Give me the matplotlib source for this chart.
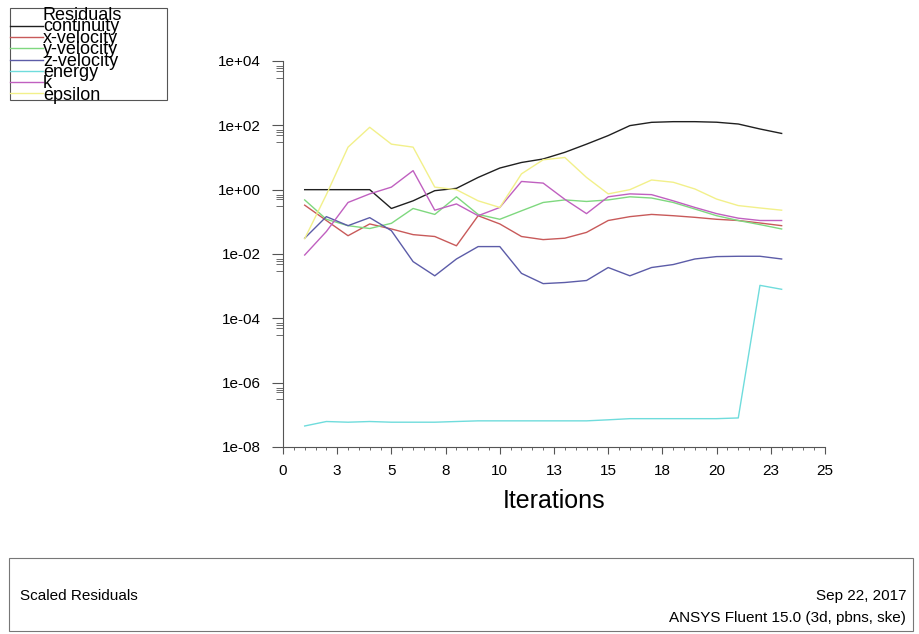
import matplotlib
matplotlib.use("Agg")
import matplotlib.pyplot as plt
from matplotlib.patches import Rectangle
from matplotlib.lines import Line2D
import numpy as np

plt.rcParams['font.family'] = ['Liberation Sans', 'DejaVu Sans']

# residual history
iterations = list(range(1, 24))
continuity = [1.0, 1.0, 1.0, 1.0, 0.26, 0.45, 0.93, 1.1, 2.4, 4.7, 7.0, 9.0,
              14.5, 26, 48, 98, 124, 130, 130, 125, 110, 77, 56]
x_velocity = [0.33, 0.11, 0.037, 0.086, 0.06, 0.04, 0.035, 0.018, 0.155, 0.086, 0.035, 0.028,
              0.031, 0.047, 0.11, 0.145, 0.17, 0.155, 0.138, 0.12, 0.11, 0.092, 0.076]
y_velocity = [0.48, 0.12, 0.076, 0.062, 0.09, 0.26, 0.17, 0.6, 0.17, 0.12, 0.22, 0.4,
              0.48, 0.43, 0.48, 0.6, 0.55, 0.4, 0.25, 0.155, 0.11, 0.082, 0.06]
z_velocity = [0.031, 0.145, 0.076, 0.135, 0.053, 0.0058, 0.0021, 0.007, 0.017, 0.017, 0.0025, 0.0012,
              0.0013, 0.0015, 0.0038, 0.0021, 0.0038, 0.0047, 0.007, 0.0083, 0.0085, 0.0085, 0.007]
energy = [4.5e-8, 6.2e-8, 5.9e-8, 6.2e-8, 5.9e-8, 5.9e-8, 5.9e-8, 6.2e-8, 6.5e-8, 6.5e-8, 6.5e-8, 6.5e-8,
          6.5e-8, 6.5e-8, 7.0e-8, 7.6e-8, 7.6e-8, 7.6e-8, 7.6e-8, 7.6e-8, 8.0e-8, 1.06e-3, 8.0e-4]
k = [0.0093, 0.05, 0.4, 0.74, 1.2, 3.9, 0.23, 0.36, 0.155, 0.28, 1.8, 1.6,
     0.5, 0.18, 0.6, 0.74, 0.7, 0.45, 0.28, 0.18, 0.13, 0.11, 0.11]
epsilon = [0.03, 0.7, 21, 87, 26, 21, 1.2, 1.0, 0.45, 0.28, 3.1, 8.5,
           10, 2.4, 0.74, 1.0, 2.0, 1.7, 1.05, 0.51, 0.32, 0.27, 0.23]

series_names = ["continuity", "x-velocity", "y-velocity", "z-velocity", "energy", "k", "epsilon"]
series_values = [continuity, x_velocity, y_velocity, z_velocity, energy, k, epsilon]
series_colors = ["#202020", "#c85a5a", "#7fd87f", "#5c5ca8", "#6fdcdc", "#c060c0", "#f2f08a"]

x_ticks = [0, 2.5, 5, 7.5, 10, 12.5, 15, 17.5, 20, 22.5, 25]
x_tick_labels = ["0", "3", "5", "8", "10", "13", "15", "18", "20", "23", "25"]
y_ticks = [1e-8, 1e-6, 1e-4, 1e-2, 1e0, 1e2, 1e4]
y_tick_labels = ["1e-08", "1e-06", "1e-04", "1e-02", "1e+00", "1e+02", "1e+04"]

W, H = 919, 634
fig = plt.figure(figsize=(W / 100, H / 100), dpi=100)


def fx(px):
    return px / W


def fy(py):
    return 1 - py / H


ax = fig.add_axes([fx(283), fy(447), fx(825) - fx(283), fy(61) - fy(447)])
for name, vals, col in zip(series_names, series_values, series_colors):
    ax.plot(iterations, vals, color=col, lw=1.0)

ax.set_yscale("log")
ax.set_xlim(0, 25)
ax.set_ylim(1e-8, 1e4)
for s in ["top", "right"]:
    ax.spines[s].set_visible(False)
for s in ["left", "bottom"]:
    ax.spines[s].set_color("#555555")

ax.set_xticks(x_ticks)
ax.set_xticklabels(x_tick_labels, fontsize=11)
ax.set_xticks(np.arange(0, 25.01, 0.5), minor=True)
ax.set_yticks(y_ticks)
ax.set_yticklabels(y_tick_labels, fontsize=11)
minor_y = [m * 10.0 ** n for n in [4, 2, 0, -2, -4, -6] for m in (0.7, 0.6, 0.5, 0.3)]
ax.set_yticks(minor_y, minor=True)
ax.yaxis.set_minor_formatter(plt.NullFormatter())
ax.tick_params(axis="y", which="major", length=8, pad=8, color="#555555")
ax.tick_params(axis="y", which="minor", length=5, color="#555555")
ax.tick_params(axis="x", which="major", length=5, pad=7, color="#555555")
ax.tick_params(axis="x", which="minor", length=2.5, color="#555555")
ax.set_xlabel("Iterations", fontsize=18, labelpad=8)

# legend box in the top-left corner, Fluent style (tight line spacing)
fig.patches.append(Rectangle((fx(10), fy(100)), fx(167) - fx(10), fy(8) - fy(100),
                             transform=fig.transFigure, fill=False, ec="#555555", lw=0.8))
legend_text = "\n".join(["Residuals"] + series_names)
fig.text(fx(43), fy(7), legend_text, fontsize=13, va="top", ha="left", linespacing=0.57)
for i, col in enumerate(series_colors):
    ly = 26 + 11.2 * i
    fig.add_artist(Line2D([fx(10), fx(43)], [fy(ly), fy(ly)], color=col, lw=1.0,
                          transform=fig.transFigure))

# footer box
fig.patches.append(Rectangle((fx(9), fy(631)), fx(913) - fx(9), fy(558) - fy(631),
                             transform=fig.transFigure, fill=False, ec="#777777", lw=0.8))
fig.text(fx(20), fy(596), "Scaled Residuals", fontsize=11, va="center", ha="left")
fig.text(fx(906), fy(596), "Sep 22, 2017", fontsize=11, va="center", ha="right")
fig.text(fx(906), fy(618), "ANSYS Fluent 15.0 (3d, pbns, ske)", fontsize=11, va="center", ha="right")

fig.savefig("out.png", dpi=100)
